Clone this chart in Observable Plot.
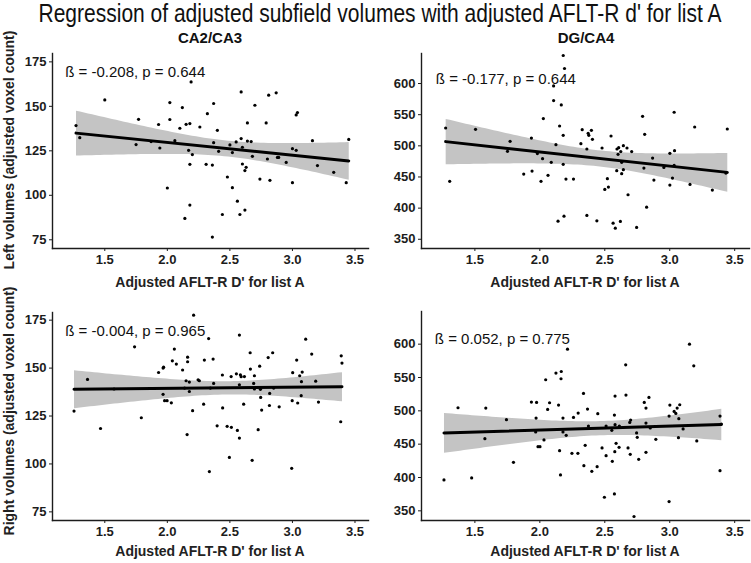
<!DOCTYPE html>
<html>
<head>
<meta charset="utf-8">
<script src="https://cdn.jsdelivr.net/npm/d3@7"></script>
<script src="https://cdn.jsdelivr.net/npm/@observablehq/plot@0.6"></script>
<style>
  html, body { margin: 0; padding: 0; background: #fff; }
  #root { position: relative; width: 751px; height: 563px; overflow: hidden; font-family: "Liberation Sans", Arial, Helvetica, sans-serif; }
  .abs { position: absolute; white-space: nowrap; }
  #title { font-family: "Liberation Sans", Arial, sans-serif; font-size: 25px; line-height: 25px; color: #111; top: 1px; left: 380px; transform: translateX(-50%) scaleX(0.84); transform-origin: center; }
  .facet { font-weight: bold; font-size: 15px; color: #111; transform: translate(-50%, -50%); }
  .xlab { font-weight: bold; font-size: 14px; color: #222; transform: translate(-50%, -50%); }
  .ylab { font-weight: bold; font-size: 14px; color: #222; transform: translate(-50%, -50%) rotate(-90deg); }
  .panel { position: absolute; }
  .panel svg [aria-label="frame"] { stroke-width: 1.4; }
</style>
</head>
<body>
<div id="root">
  <div id="title" class="abs">Regression of adjusted subfield volumes with adjusted AFLT-R d' for list A</div>
</div>
<script>
// ---- Data ----
const facetTitles = ["CA2/CA3", "DG/CA4"];
const rowLabels = ["Left volumes (adjusted voxel count)", "Right volumes (adjusted voxel count)"];
const xLabel = "Adjusted AFLT-R D' for list A";
const xTicks = [1.5, 2.0, 2.5, 3.0, 3.5];
const yTicksCA = [75, 100, 125, 150, 175];
const yTicksDG = [350, 400, 450, 500, 550, 600];
const notes = ["ß = -0.208, p = 0.644", "ß = -0.177, p = 0.644", "ß = -0.004, p = 0.965", "ß = 0.052, p = 0.775"];

// CA2/CA3, left
const caLeftX = [1.27,1.30,1.50,1.77,1.75,1.87,1.93,1.94,2.02,2.02,2.00,2.06,2.12,2.10,2.15,2.18,2.19,2.17,2.20,2.18,2.18,2.14,2.26,2.31,2.32,2.59,2.37,2.81,2.87,2.70,3.04,3.03,2.64,2.79,2.40,2.59,2.64,2.67,2.55,2.37,2.50,2.60,2.41,2.52,2.68,2.80,2.88,2.89,2.95,3.00,3.03,3.16,3.45,2.36,2.60,2.63,2.62,3.20,3.33,2.48,2.74,2.82,2.52,3.00,3.43,2.56,2.62,2.58,2.44,2.36];
const caLeftY = [139.2,132.4,153.6,142.7,128.5,130.2,139.8,126.6,152.1,142.6,104.1,130.7,149.3,137.7,139.9,140.3,163.7,125.3,122.9,117.4,94.5,87.0,138.4,117.4,145.9,158.1,151.6,156.3,157.6,150.6,146.5,145.2,140.7,140.7,136.5,131.9,130.5,130.2,130.0,129.6,128.3,127.0,124.7,124.0,121.9,120.4,121.3,121.3,118.5,126.2,125.3,130.7,131.4,117.0,117.6,115.7,113.9,116.7,112.9,110.3,109.1,108.4,104.3,107.1,107.1,96.7,91.7,89.2,89.2,76.5];

// DG/CA4, left
const dgLeftX = [1.275,1.306,1.505,1.771,1.751,1.935,2.027,1.981,2.021,2.088,1.876,1.940,2.009,2.063,2.124,2.152,2.106,2.106,2.165,2.180,2.190,2.180,2.180,2.201,2.140,2.186,2.259,2.326,2.372,2.397,2.377,2.405,2.316,2.362,2.479,2.548,2.594,2.607,2.602,2.623,2.643,2.671,2.707,2.791,2.807,3.034,3.192,3.443,2.868,3.001,3.037,2.955,2.801,2.630,2.643,2.592,2.630,2.520,2.528,2.500,2.679,2.878,3.021,3.001,3.034,3.156,3.328,3.432,2.822,2.362,2.439,2.564,2.581,2.620,2.745];
const dgLeftY = [528.6,443,526.5,507.2,491.2,512.5,543.7,487.5,479.4,473.5,454.7,459.5,443,452.6,501.9,531.8,572.7,596.1,565.6,645,624.1,516.9,470.3,446.6,379.1,387.1,446.6,526.0,520.1,524.9,516.9,510.5,503.5,494.9,496.5,515.8,494.9,497.1,486.3,490.7,500.3,496.5,490.7,547.4,518.5,553.9,530.2,527.0,480.4,488,492.3,465.4,464.3,473.5,461.7,460.1,455.3,447.3,433.8,430.1,421.5,445,448.2,437,468.6,438.1,429,456.3,401.6,388.3,379.7,375.9,367.8,378.6,369];

// CA2/CA3, right
const caRightX = [1.254,1.362,1.466,1.574,1.738,1.792,1.93,1.966,1.97,1.966,1.978,1.998,2.032,2.04,2.056,2.072,2.122,2.138,2.15,2.162,2.162,2.176,2.176,2.158,2.202,2.21,2.246,2.256,2.296,2.29,2.33,2.336,2.576,2.366,2.662,2.842,2.806,2.738,2.664,3.106,3.154,3.034,3.39,3.396,3.002,3.078,3.058,3.072,3.186,2.44,2.51,2.552,2.584,2.59,2.616,2.696,2.37,2.344,2.576,2.69,2.696,2.744,2.85,2.818,2.746,3.07,2.998,3.042,3.208,2.61,2.816,2.894,2.442,2.754,2.398,2.478,2.512,2.56,2.726,2.576,3.386,2.496,2.678,2.994];
const caRightY = [127.6,144.1,118.5,139.1,161.1,124.1,147.7,150,150.5,136.3,133.0,133.0,131.9,153.8,159.9,152.1,149.0,139.6,143.4,155.7,153.3,142.7,137.8,115.3,127.8,177.6,143.9,143.4,154.2,131.2,165.4,96.0,167.2,154.7,158.0,158.0,155.5,151.0,149.5,165.1,157.3,154.2,156.4,152.6,147.6,147.9,146.0,142.9,143.2,146.4,145.6,147.0,146.5,145.5,145.6,146.0,142.0,139.6,141.3,142.0,139.1,138.9,139.6,136.8,134.7,135.6,133.0,131.8,132.3,131.2,130.5,129.8,129.2,128.1,119.9,119.6,119.1,117.5,117.9,113.5,122.0,103.4,101.9,97.7];

// DG/CA4, right
const dgRightX = [1.262,1.370,1.475,1.584,1.577,1.743,1.797,1.935,1.975,1.971,1.968,1.986,2.001,2.032,2.045,2.060,2.075,2.124,2.144,2.165,2.163,2.178,2.178,2.203,2.152,2.159,2.213,2.336,2.661,2.663,2.579,2.367,2.295,2.259,2.446,2.574,2.804,2.840,2.817,3.001,3.034,3.057,3.077,3.047,2.995,3.070,3.152,3.185,3.387,3.397,3.103,3.208,3.067,2.893,2.817,2.850,2.745,2.750,2.699,2.692,2.612,2.579,2.554,2.510,2.374,2.587,2.610,2.349,2.479,2.577,2.510,2.679,2.696,2.817,2.761,2.558,2.247,2.293,2.339,2.441,2.400,3.387,2.497,2.574,2.995,2.725];
const dgRightY = [396.4,504.6,399.4,504.2,458.2,486.7,422.8,513.2,512.6,489.2,468.3,446.3,446.3,456.3,546.6,502.1,512.1,556.6,508.7,559.0,548.1,489.2,468.3,463.2,440.3,403.9,592.5,526.1,569.0,523.6,522.2,502.7,496.7,490.1,495.7,493.7,512.6,520.1,504.2,508.7,499.1,504.2,509.1,496.1,492.2,488.2,600,567.5,492.2,480.2,472.8,454.8,459.7,457.2,481.7,474.3,466.8,460.2,486.2,482.6,477.2,479.2,470.7,477.2,477.2,451.2,445.2,448.2,444.3,438.8,432.8,444.3,434.7,437.7,427.2,424.2,436.2,436.2,417.8,416.3,409.3,410.3,370.4,375.4,363.9,341.5];

// ---- Layout / styling ----
const FONT = '"Liberation Sans", Arial, Helvetica, sans-serif';
const root = document.getElementById("root");

function addDiv(cls, text, left, top) {
  const d = document.createElement("div");
  d.className = "abs " + cls;
  d.textContent = text;
  d.style.left = left + "px";
  d.style.top = top + "px";
  root.appendChild(d);
}

function makePanel(cfg) {
  const data = cfg.xs.map((x, i) => ({x, y: cfg.ys[i]}));
  const [x0, x1, y0, y1] = cfg.box;
  const mL = 44, mR = 2, mT = 8, mB = 26;
  const width = Math.round(x1 - x0 + mL + mR);
  const height = Math.round(y1 - y0 + mT + mB);
  const chart = Plot.plot({
    width, height,
    marginLeft: mL, marginRight: mR, marginTop: mT, marginBottom: mB,
    style: {fontFamily: FONT, fontSize: "13px", fontWeight: "bold", color: "#1c1c1c", background: "transparent", overflow: "visible"},
    x: {domain: cfg.xDomain, ticks: xTicks, tickFormat: d3.format(".1f"), label: null, line: true, tickSize: 3, tickPadding: 3},
    y: {domain: cfg.yDomain, ticks: cfg.yTicks, label: null, line: true, tickSize: 3, tickPadding: 3},
    marks: [
      Plot.linearRegressionY(data, {x: "x", y: "y", ci: 0.95, fill: "#c4c4c4", fillOpacity: 1, stroke: "black", strokeOpacity: 0}),
      Plot.dot(data, {x: "x", y: "y", r: 1.6, fill: "black", stroke: null}),
      Plot.linearRegressionY(data, {x: "x", y: "y", ci: 0, stroke: "black", strokeWidth: 3}),
      Plot.text([cfg.note], {text: d => d, frameAnchor: "top-left", textAnchor: "start", lineAnchor: "middle", dx: cfg.noteDx, dy: cfg.noteDy, fontSize: 15, fontWeight: "normal", fill: "#111"})
    ]
  });
  const wrap = document.createElement("div");
  wrap.className = "panel";
  wrap.style.left = (x0 - mL) + "px";
  wrap.style.top = (y0 - mT) + "px";
  wrap.appendChild(chart);
  root.appendChild(wrap);
}

const xDomLeft = [1.082, 3.608];
const xDomRight = [1.089, 3.614];

makePanel({xs: caLeftX, ys: caLeftY, box: [52.3, 368, 53.3, 248], xDomain: xDomLeft, yDomain: [70.1, 179.7], yTicks: yTicksCA, note: notes[0], noteDx: 12.7, noteDy: 18.7});
makePanel({xs: dgLeftX, ys: dgLeftY, box: [420.7, 749, 53.3, 248], xDomain: xDomRight, yDomain: [335.2, 648.2], yTicks: yTicksDG, note: notes[1], noteDx: 14.3, noteDy: 25.7});
makePanel({xs: caRightX, ys: caRightY, box: [52.3, 368, 311.7, 520], xDomain: xDomLeft, yDomain: [70.5, 179], yTicks: yTicksCA, note: notes[2], noteDx: 12.7, noteDy: 18.3});
makePanel({xs: dgRightX, ys: dgRightY, box: [420.7, 749, 310.7, 520], xDomain: xDomRight, yDomain: [335.5, 649], yTicks: yTicksDG, note: notes[3], noteDx: 13.3, noteDy: 27.3});

addDiv("facet", facetTitles[0], 210, 37);
addDiv("facet", facetTitles[1], 586, 37);
addDiv("xlab", xLabel, 210, 282);
addDiv("xlab", xLabel, 585, 282);
addDiv("xlab", xLabel, 210, 551);
addDiv("xlab", xLabel, 585, 551);
addDiv("ylab", rowLabels[0], 9, 150);
addDiv("ylab", rowLabels[1], 9, 411);
</script>
</body>
</html>
